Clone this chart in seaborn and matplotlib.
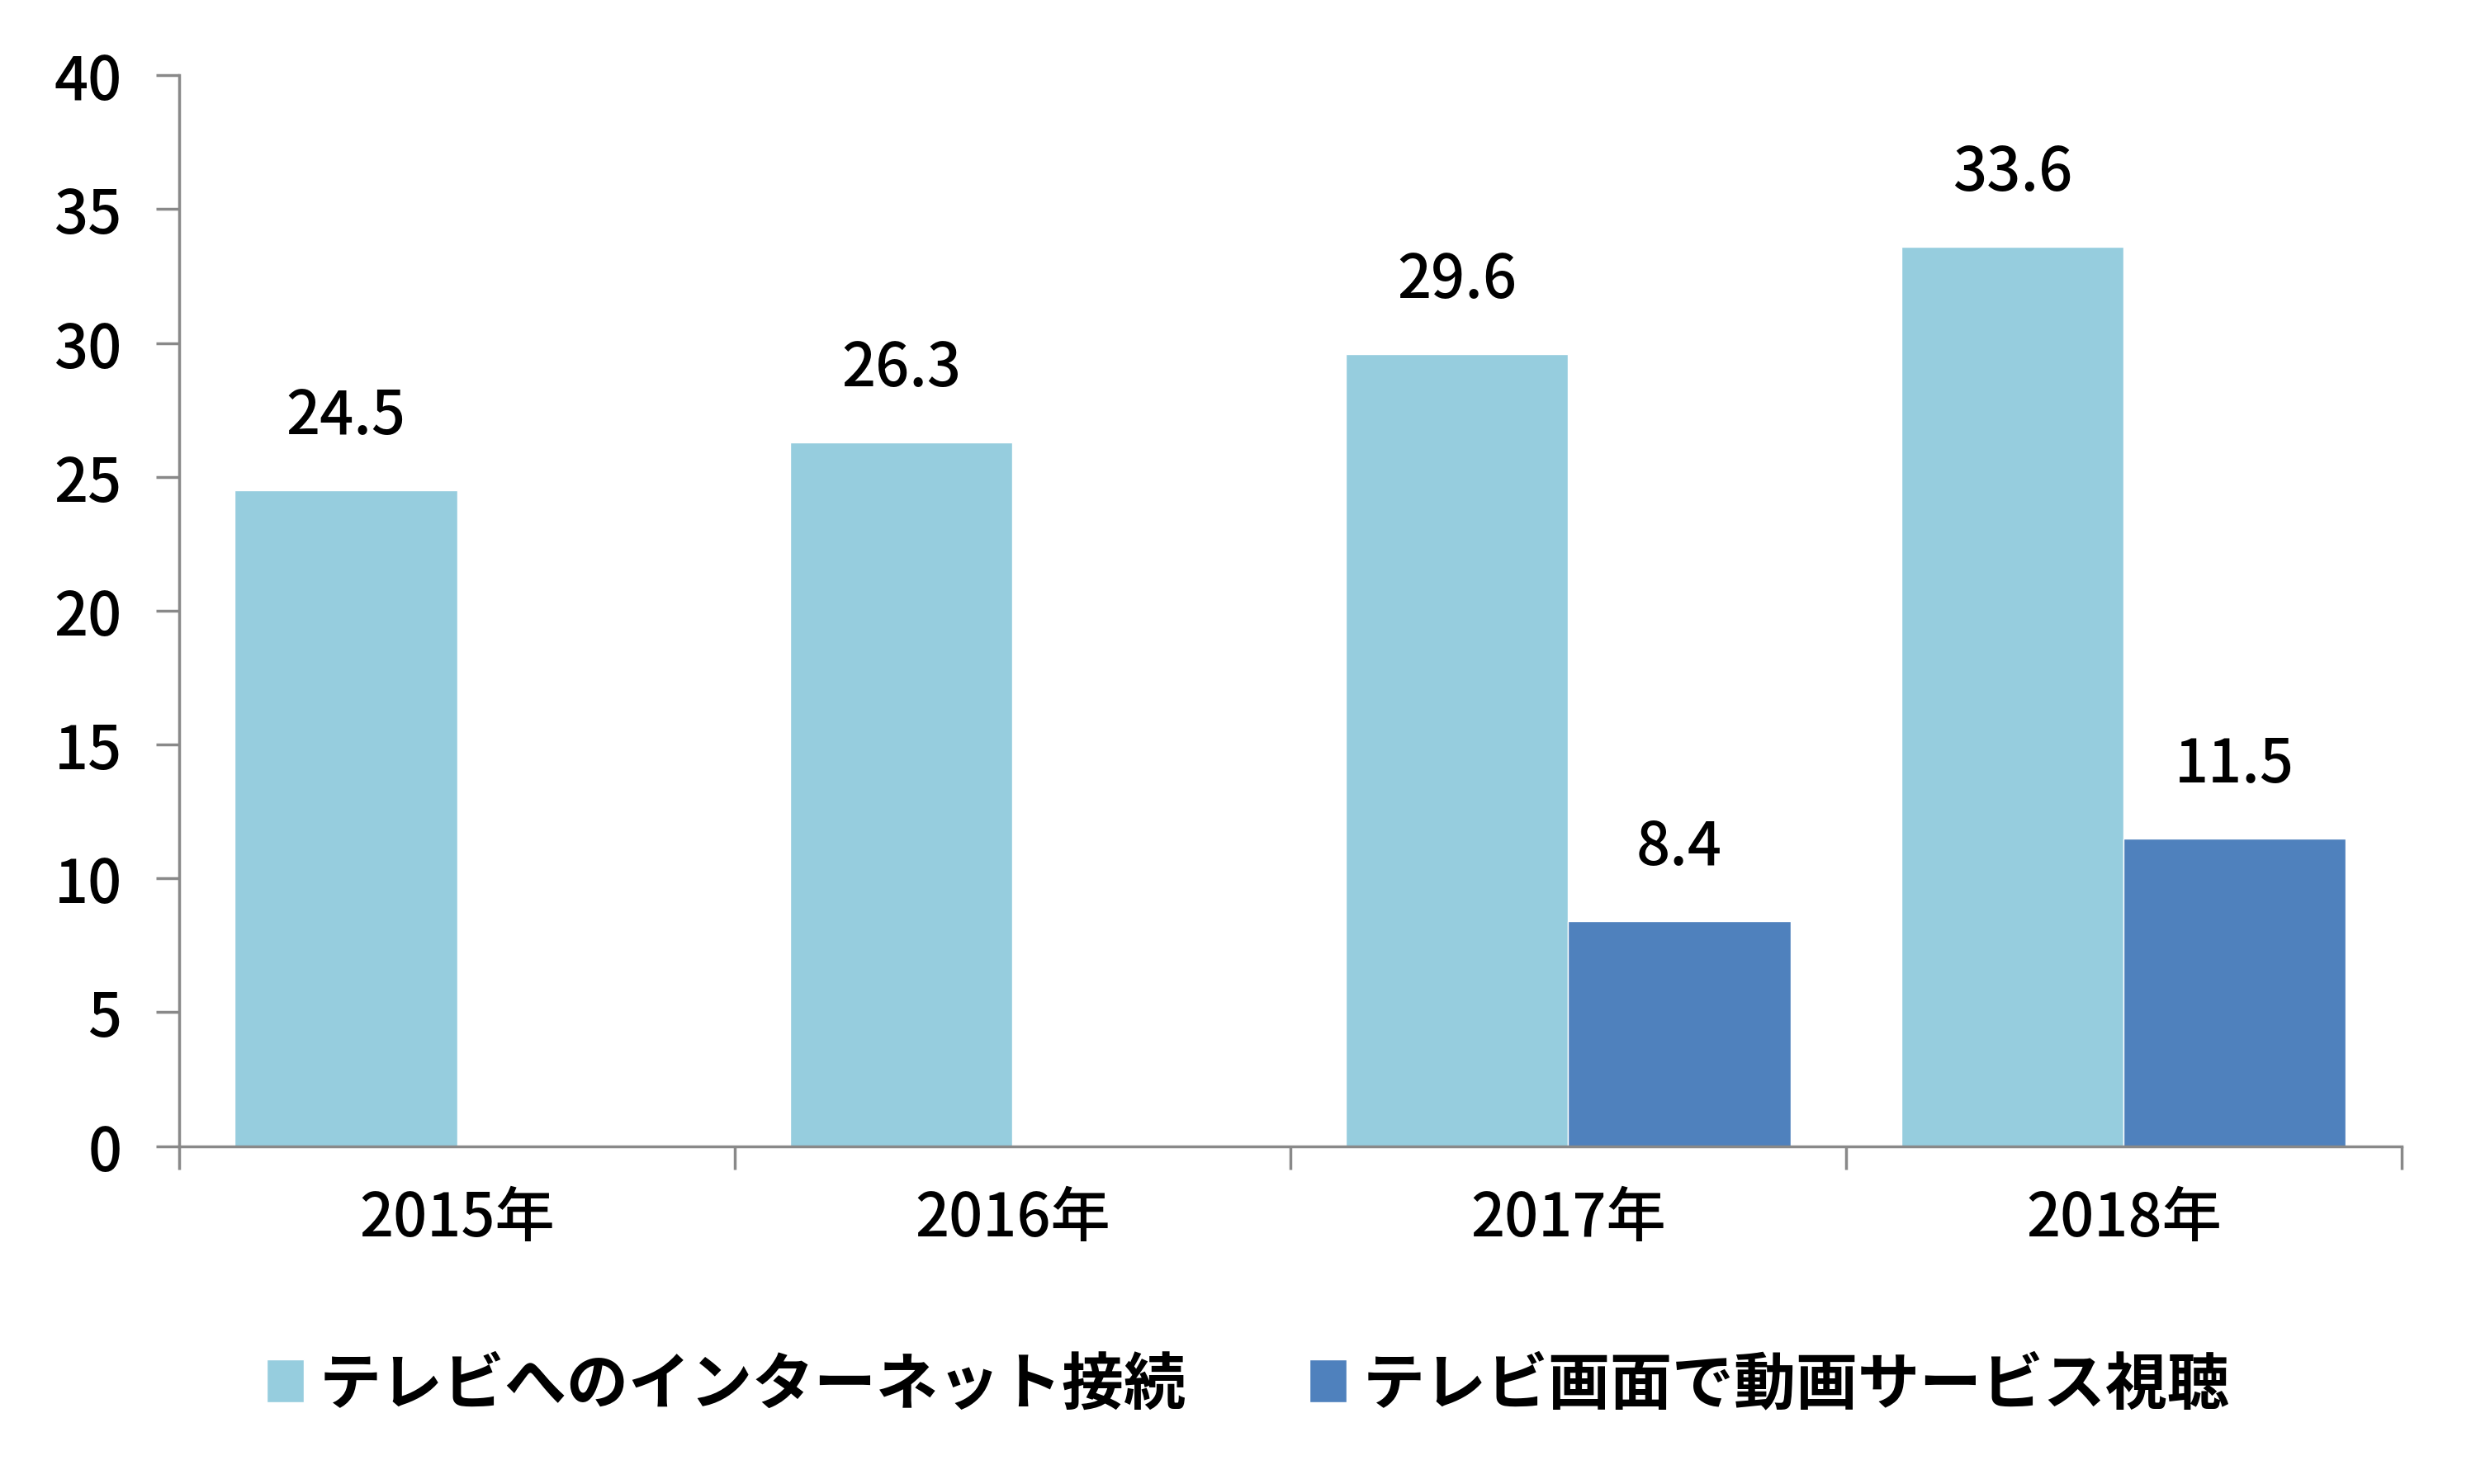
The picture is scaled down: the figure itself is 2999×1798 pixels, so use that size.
import numpy as np
import pandas as pd
import matplotlib
matplotlib.use("Agg")
import matplotlib.pyplot as plt
import seaborn as sns

# --- données ---
years = ["2015年", "2016年", "2017年", "2018年"]
series_names = ["テレビへのインターネット接続", "テレビ画面で動画サービス視聴"]
internet = [24.5, 26.3, 29.6, 33.6]
video = [np.nan, np.nan, 8.4, 11.5]
colors = ["#96CDDE", "#4F81BD"]
yticks = [0, 5, 10, 15, 20, 25, 30, 35, 40]

df = pd.DataFrame({
    "year": years * 2,
    "series": [series_names[0]] * 4 + [series_names[1]] * 4,
    "value": internet + video,
})

sns.set_style("white")
plt.rcParams["font.family"] = ["Noto Sans CJK JP", "DejaVu Sans"]
plt.rcParams["font.weight"] = "medium"
plt.rcParams["text.color"] = "black"
plt.rcParams["xtick.labelcolor"] = "black"
plt.rcParams["ytick.labelcolor"] = "black"

fig = plt.figure(figsize=(29.99, 17.99), dpi=100)
ax = fig.add_axes([0.0724, 0.2276, 0.8975, 0.7211])

sns.barplot(data=df, x="year", y="value", hue="series", order=years,
            hue_order=series_names, palette=colors, width=0.8,
            saturation=1, errorbar=None, ax=ax, legend=True)

# étiquettes de valeurs
for cont in ax.containers:
    labels = []
    for b in cont:
        h = b.get_height()
        labels.append(f"{h:.1f}" if np.isfinite(h) and h > 0 else "")
    ax.bar_label(cont, labels=labels, padding=38, fontsize=52, color="black")

ax.set_ylim(0, 40)
ax.set_xlim(-0.5, 3.5)
ax.set_yticks(yticks)
ax.set_yticklabels([str(v) for v in yticks])
ax.set_xlabel("")
ax.set_ylabel("")

# ticks Excel : majeurs aux bords, libellés au centre
ax.set_xticks([-0.5, 0.5, 1.5, 2.5, 3.5])
ax.set_xticklabels([])
ax.set_xticks(range(len(years)), minor=True)
ax.set_xticklabels(years, minor=True)
ax.tick_params(axis="x", which="major", direction="out", length=20, width=2.5,
               color="#898989", bottom=True)
ax.tick_params(axis="x", which="minor", length=0, pad=36, labelsize=52,
               labelcolor="black")
ax.tick_params(axis="y", direction="out", length=20, width=2.5, color="#898989",
               pad=30, labelsize=52, left=True, labelcolor="black")

for s in ["top", "right"]:
    ax.spines[s].set_visible(False)
for s in ["left", "bottom"]:
    ax.spines[s].set_color("#898989")
    ax.spines[s].set_linewidth(2.5)

handles, labs = ax.get_legend_handles_labels()
ax.get_legend().remove()
leg = fig.legend(handles, labs, loc="center", bbox_to_anchor=(0.504, 0.067), ncol=2,
                 frameon=False, prop={"size": 54, "weight": "bold"}, handlelength=0.6,
                 handleheight=0.7, handletextpad=0.25, columnspacing=2.0)
for t in leg.get_texts():
    t.set_color("black")

fig.savefig("out.png", dpi=100)
